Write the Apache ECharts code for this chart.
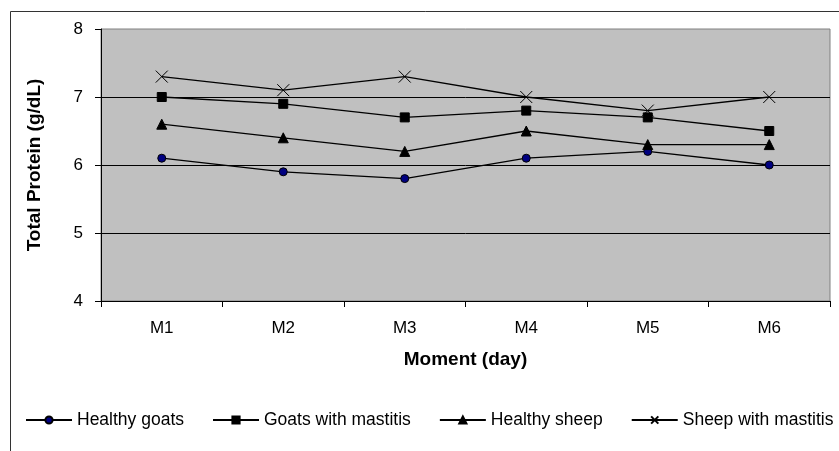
<!DOCTYPE html>
<html>
<head>
<meta charset="utf-8">
<script src="https://cdn.jsdelivr.net/npm/echarts@6/dist/echarts.min.js"></script>
<style>
  html, body { margin: 0; padding: 0; background: #fff; }
  #chart { width: 839px; height: 451px; }
</style>
</head>
<body>
<div id="chart"></div>
<script>
// categories (x axis)
const moments = ["M1", "M2", "M3", "M4", "M5", "M6"];
// total protein values g/dL
const healthyGoats = [6.1, 5.9, 5.8, 6.1, 6.2, 6.0];
const goatsMastitis = [7.0, 6.9, 6.7, 6.8, 6.7, 6.5];
const healthySheep = [6.6, 6.4, 6.2, 6.5, 6.3, 6.3];
const sheepMastitis = [7.3, 7.1, 7.3, 7.0, 6.8, 7.0];

const font = "Liberation Sans";

function lineSeries(name, data, symbol, size, fill) {
  return {
    name: name,
    type: "line",
    data: data,
    symbol: symbol,
    symbolSize: size,
    showSymbol: true,
    lineStyle: { color: "#000", width: 1.3 },
    itemStyle: { color: fill, borderColor: "#000", borderWidth: 1 },
    emphasis: { disabled: true },
    animation: false
  };
}

const myChart = echarts.init(document.getElementById("chart"));
myChart.setOption({
  animation: false,
  textStyle: { fontFamily: font, color: "#000" },
  graphic: [{
    type: "rect",
    shape: { x: 10.5, y: 11.5, width: 900, height: 500 },
    style: { fill: "none", stroke: "#333", lineWidth: 1 },
    silent: true
  }],
  grid: {
    left: 101, right: 9, top: 29, bottom: 150,
    show: true,
    backgroundColor: "#C0C0C0",
    borderColor: "#808080",
    borderWidth: 1
  },
  legend: {
    left: 25, top: 411, width: 1000,
    padding: 0,
    itemWidth: 46, itemHeight: 9,
    itemGap: 28,
    textStyle: { fontFamily: font, fontSize: 17.5, color: "#000" },
    data: ["Healthy goats", "Goats with mastitis", "Healthy sheep", "Sheep with mastitis"]
  },
  xAxis: {
    type: "category",
    data: moments,
    boundaryGap: true,
    name: "Moment (day)",
    nameLocation: "middle",
    nameGap: 49,
    nameTextStyle: { fontFamily: font, fontSize: 19, fontWeight: "bold", color: "#000" },
    axisLine: { lineStyle: { color: "#000", width: 1 } },
    axisTick: { show: true, length: 6, lineStyle: { color: "#000" } },
    axisLabel: { margin: 19, fontFamily: font, fontSize: 17, color: "#000" },
    splitLine: { show: false }
  },
  yAxis: {
    type: "value",
    min: 4, max: 8, interval: 1,
    name: "Total Protein (g/dL)",
    nameLocation: "middle",
    nameGap: 57,
    nameTextStyle: { fontFamily: font, fontSize: 19, fontWeight: "bold", color: "#000" },
    axisLine: { show: true, lineStyle: { color: "#000", width: 1 } },
    axisTick: { show: true, length: 6, lineStyle: { color: "#000" } },
    axisLabel: { margin: 18, fontFamily: font, fontSize: 17, color: "#000" },
    splitLine: { show: true, showMinLine: false, showMaxLine: false, lineStyle: { color: "#000", width: 1 } }
  },
  series: [
    lineSeries("Healthy goats", healthyGoats, "circle", 8, "#000080"),
    lineSeries("Goats with mastitis", goatsMastitis, "rect", 9, "#000"),
    lineSeries("Healthy sheep", healthySheep, "triangle", 10, "#000"),
    lineSeries("Sheep with mastitis", sheepMastitis, "path://M0,0L10,10M10,0L0,10", 12, "none")
  ]
});
</script>
</body>
</html>
